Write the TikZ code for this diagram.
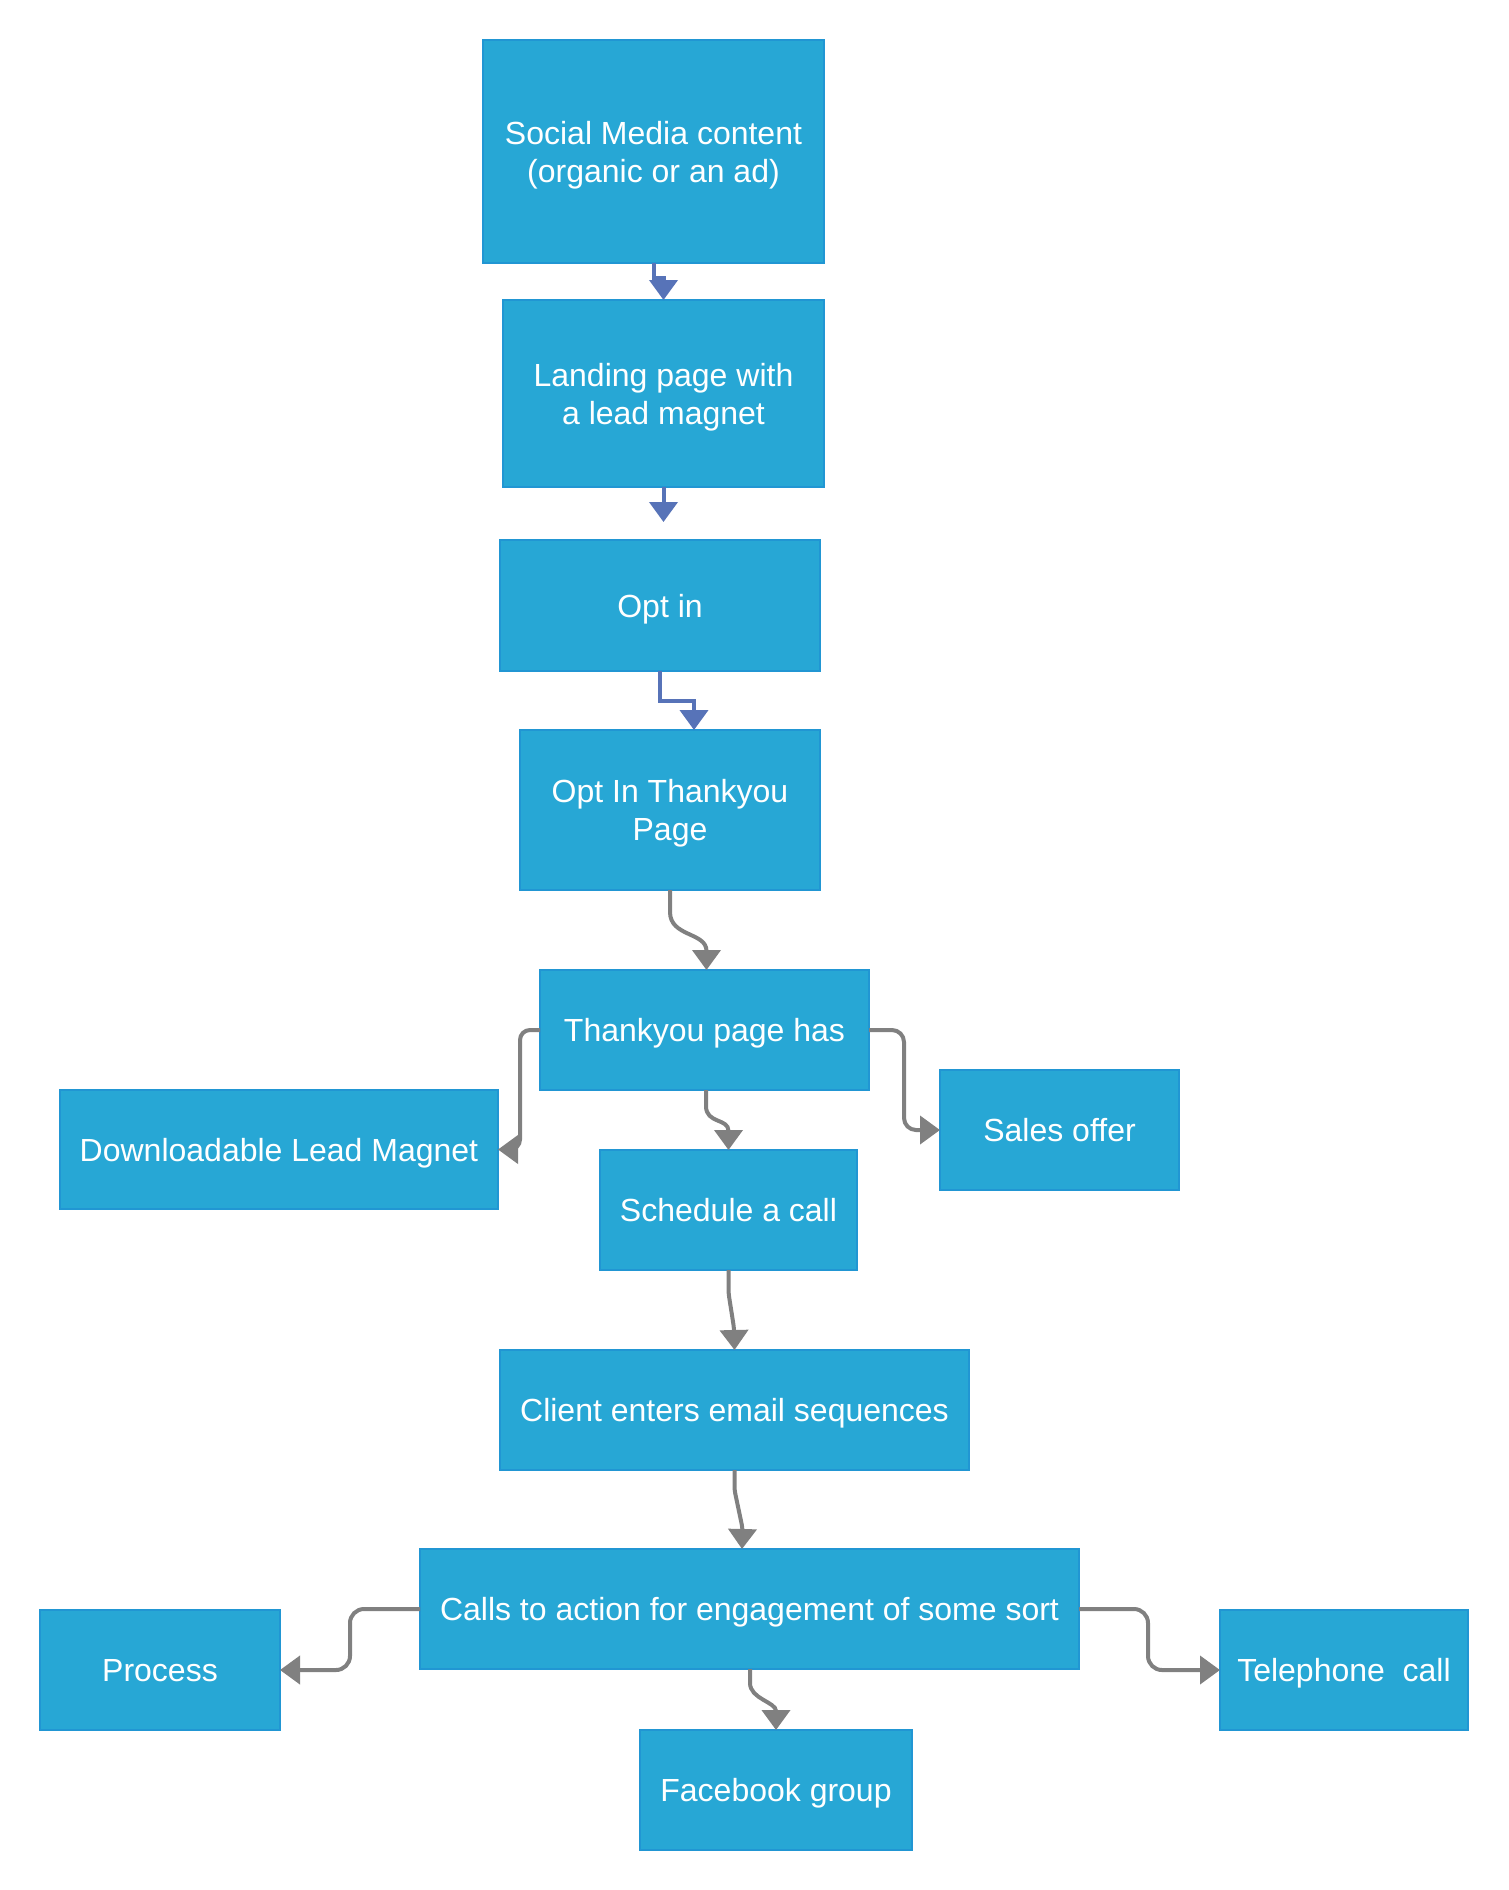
\documentclass[tikz,border=0pt]{standalone}
\usepackage{fontspec}
\setmainfont{Liberation Sans}
\usetikzlibrary{arrows.meta,calc}
\definecolor{boxfill}{HTML}{27A7D5}
\definecolor{boxline}{HTML}{2196D3}
\definecolor{bluearrow}{HTML}{5773B8}
\definecolor{grayarrow}{HTML}{808080}
\newcommand{\boxtext}[1]{\raisebox{-4pt}[\height][\depth]{\begin{tabular}{@{}c@{}}#1\end{tabular}}}
\tikzset{
  box/.style={rectangle, fill=boxfill, draw=boxline, line width=1.5pt,
    inner sep=0pt, outer sep=0pt, text=white, align=center,
    font=\fontsize{32}{38}\selectfont},
  barrow/.style={draw=bluearrow, line width=4pt, -{Triangle[length=20pt,width=28pt]}},
  garrow/.style={draw=grayarrow, line width=4pt, -{Triangle[length=20pt,width=28pt]}},
}
\begin{document}
\begin{tikzpicture}[x=1pt,y=-1pt]
\useasboundingbox (0,0) rectangle (1509,1890);
\fill[white] (0,0) rectangle (1509,1890);

\node[box, minimum width=341pt, minimum height=223pt] (soc) at (653.5,151.5) {\boxtext{Social Media content\\(organic or an ad)}};
\node[box, minimum width=321pt, minimum height=187pt] (land) at (663.5,393.5) {\boxtext{Landing page with\\a lead magnet}};
\node[box, minimum width=320pt, minimum height=131pt] (optin) at (660,605.5) {\boxtext{Opt in}};
\node[box, minimum width=300pt, minimum height=160pt] (oty) at (670,810) {\boxtext{Opt In Thankyou\\Page}};
\node[box, minimum width=329pt, minimum height=120pt] (thk) at (704.5,1030) {\boxtext{Thankyou page has}};
\node[box, minimum width=438pt, minimum height=119pt] (dl) at (279,1149.5) {\boxtext{Downloadable Lead Magnet}};
\node[box, minimum width=257pt, minimum height=120pt] (sched) at (728.5,1210) {\boxtext{Schedule a call}};
\node[box, minimum width=239pt, minimum height=120pt] (sales) at (1059.5,1130) {\boxtext{Sales offer}};
\node[box, minimum width=469pt, minimum height=120pt] (client) at (734.5,1410) {\boxtext{Client enters email sequences}};
\node[box, minimum width=659pt, minimum height=120pt] (calls) at (749.5,1609) {\boxtext{Calls to action for engagement of some sort}};
\node[box, minimum width=240pt, minimum height=120pt] (proc) at (160,1670) {\boxtext{Process}};
\node[box, minimum width=248pt, minimum height=120pt] (tel) at (1344,1670) {\boxtext{Telephone~ call}};
\node[box, minimum width=272pt, minimum height=120pt] (fb) at (776,1790) {\boxtext{Facebook group}};

\coordinate (a2end) at (663.5,522);

% blue connectors
\draw[barrow] (soc.south) -- ++(0,15) -| (land.north);
\draw[barrow] (land.south) -- (a2end);
\draw[barrow] (optin.south) -- ++(0,30) -| ([xshift=24pt]oty.north);

% gray connectors
\draw[garrow] (oty.south) -- ++(0,22) .. controls +(0,25) and +(0,-38) .. ([xshift=2pt]thk.north);
\draw[garrow, rounded corners=10pt] (thk.west) -- ++(-20,0) |- (dl.east);
\draw[garrow, rounded corners=12pt] (thk.east) -- ++(35,0) |- (sales.west);
\draw[garrow] ([xshift=1.5pt]thk.south) -- ++(0,16) .. controls +(0,18) and +(0,-32) .. (sched.north);
\draw[garrow, rounded corners=4pt] (sched.south) -- ++(0,23) -- ++(5.5,35) -- (client.north);
\draw[garrow, rounded corners=4pt] (client.south) -- ++(0,20) -- ++(8,38) -- ([xshift=-7.5pt]calls.north);
\draw[garrow, rounded corners=14pt] (calls.west) -- ++(-70,0) |- (proc.east);
\draw[garrow, rounded corners=14pt] (calls.east) -- ++(69,0) |- (tel.west);
\draw[garrow] ([xshift=0.5pt]calls.south) -- ++(0,14) .. controls +(0,16) and +(0,-28) .. (fb.north);
\end{tikzpicture}
\end{document}
